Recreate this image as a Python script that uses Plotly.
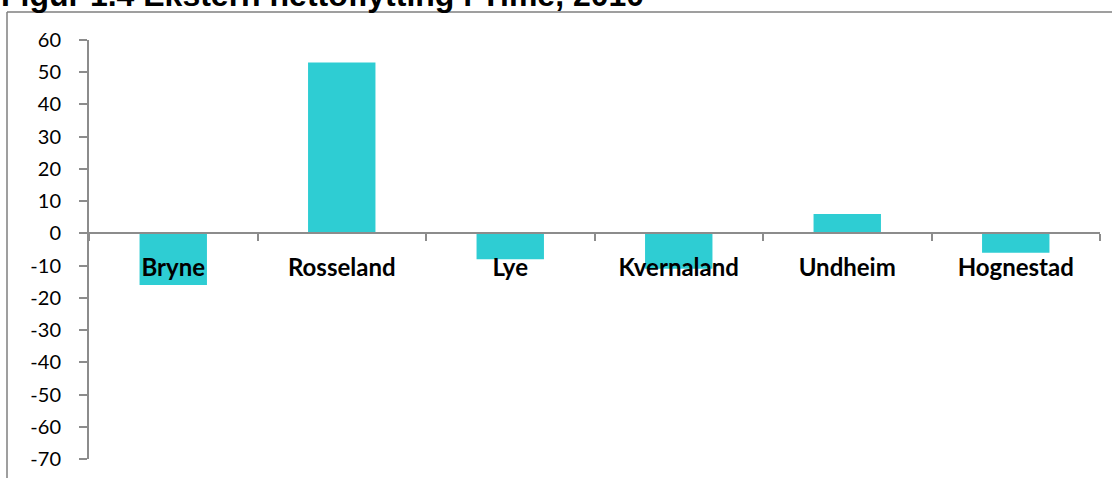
import plotly.graph_objects as go

categories = ["Bryne", "Rosseland", "Lye", "Kvernaland", "Undheim", "Hognestad"]
values = [-16, 53, -8, -11, 6, -6]
y_ticks = [60, 50, 40, 30, 20, 10, 0, -10, -20, -30, -40, -50, -60, -70]
title_text = "Figur 1.4 Ekstern nettoflytting i Time, 2010"

W, H = 1112, 478
ml, mr, mt, mb = 89, 12, 40, 19
pw, ph = W - ml - mr, H - mt - mb
ymin, ymax = -70, 60
zero_frac = (0 - ymin) / (ymax - ymin)

fig = go.Figure()
fig.add_trace(go.Bar(x=categories, y=values, marker=dict(color="#2ECDD3", line=dict(width=0)),
                     width=0.4, showlegend=False))

axis_gray = "#8c8c8c"
fig.update_layout(
    width=W, height=H,
    margin=dict(l=ml, r=mr, t=mt, b=mb, autoexpand=False),
    paper_bgcolor="white", plot_bgcolor="white",
    xaxis=dict(
        anchor="free", position=zero_frac, automargin=False,
        showline=True, linecolor=axis_gray, linewidth=2,
        ticks="outside", tickson="boundaries", ticklen=7, tickcolor=axis_gray, tickwidth=2,
        showgrid=False, zeroline=False,
        tickfont=dict(family="Lato", size=24, color="black", weight="bold"),
        ticklabelstandoff=13,
    ),
    yaxis=dict(
        range=[ymin, ymax], tickvals=y_ticks, ticktext=[str(v) for v in y_ticks],
        automargin=False,
        showline=True, linecolor=axis_gray, linewidth=2,
        ticks="outside", ticklen=8, tickcolor=axis_gray, tickwidth=2,
        showgrid=False, zeroline=False,
        tickfont=dict(family="Lato", size=20, color="black"),
        ticklabelstandoff=14,
    ),
)

# outer frame (left and top borders)
fx = (7 - ml) / pw
fy = 1 + (mt - 12) / ph
fig.add_shape(type="line", xref="paper", yref="paper", x0=fx, x1=fx, y0=-mb / ph - 0.05, y1=fy,
              line=dict(color="#7f7f7f", width=1.5))
fig.add_shape(type="line", xref="paper", yref="paper", x0=fx, x1=1 + mr / pw + 0.05, y0=fy, y1=fy,
              line=dict(color="#7f7f7f", width=1.5))

fig.add_annotation(text="<b>" + title_text + "</b>", xref="paper", yref="paper",
                   x=(-1 - ml) / pw, xanchor="left", y=1 + (mt - 15) / ph, yanchor="bottom",
                   showarrow=False, font=dict(family="Liberation Sans", size=32, color="black"))

fig.write_html("out.html", config={"displayModeBar": False},
               post_script="document.body.style.margin='0';document.body.style.overflow='hidden';")
